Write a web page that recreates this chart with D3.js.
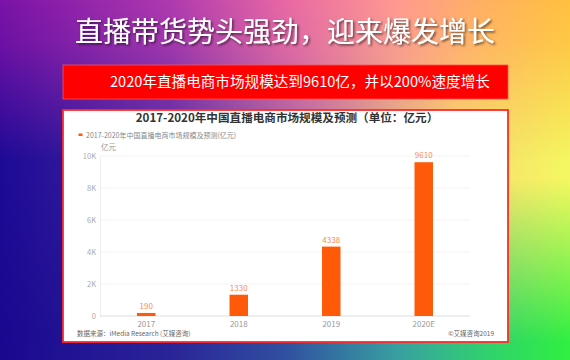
<!DOCTYPE html>
<html><head><meta charset="utf-8">
<script src="https://cdn.jsdelivr.net/npm/d3@7"></script>
<style>html,body{margin:0;padding:0;overflow:hidden;background:#1a0a90}</style>
</head><body>
<script>
const categories = ["2017", "2018", "2019", "2020E"];
const values = [190, 1330, 4338, 9610];
const yTicks = [0, 2000, 4000, 6000, 8000, 10000];
const yTickLabels = ["0", "2K", "4K", "6K", "8K", "10K"];
const mainTitle = "直播带货势头强劲，迎来爆发增长";
const subTitle = "2020年直播电商市场规模达到9610亿，并以200%速度增长";
const chartTitle = "2017-2020年中国直播电商市场规模及预测（单位：亿元）";
const legendLabel = "2017-2020年中国直播电商市场规模及预测(亿元)";
const unitLabel = "亿元";
const sourceLabel = "数据来源：iMedia Research (艾媒咨询)";
const copyLabel = "©艾媒咨询2019";

const W = 570, H = 360;
const FONT = "'Noto Sans CJK SC','Noto Sans',sans-serif";
const svg = d3.select("body").append("svg").attr("width", W).attr("height", H);
const defs = svg.append("defs");

function hgrad(id, stops) {
  const g = defs.append("linearGradient").attr("id", id).attr("x1", 0).attr("x2", 1).attr("y1", 0).attr("y2", 0);
  stops.forEach(s => g.append("stop").attr("offset", s[0]).attr("stop-color", s[1]));
}
hgrad("gTop", [[0, "#7a12a6"], [0.3, "#b03aae"], [0.5, "#e868a4"], [0.7, "#ff9a90"], [0.85, "#ffb060"], [1, "#ffc040"]]);
hgrad("gMid", [[0, "#1c0a96"], [0.3, "#4a2aa0"], [0.55, "#b070a0"], [0.8, "#f8d870"], [1, "#f4f860"]]);
hgrad("gBot", [[0, "#1a0890"], [0.3, "#2a2498"], [0.5, "#3050a0"], [0.7, "#38a0a0"], [0.85, "#30d070"], [1, "#30f040"]]);

function vmask(id, stops) {
  const g = defs.append("linearGradient").attr("id", id + "G").attr("x1", 0).attr("x2", 0).attr("y1", 0).attr("y2", 1);
  stops.forEach(s => g.append("stop").attr("offset", s[0]).attr("stop-color", "white").attr("stop-opacity", s[1]));
  defs.append("mask").attr("id", id).append("rect").attr("width", W).attr("height", H).attr("fill", `url(#${id}G)`);
}
vmask("mMid", [[0, 1], [0.5, 1], [0.95, 0]]);
vmask("mTop", [[0, 1], [0.12, 0.85], [0.45, 0]]);

svg.append("rect").attr("width", W).attr("height", H).attr("fill", "url(#gBot)");
svg.append("rect").attr("width", W).attr("height", H).attr("fill", "url(#gMid)").attr("mask", "url(#mMid)");
svg.append("rect").attr("width", W).attr("height", H).attr("fill", "url(#gTop)").attr("mask", "url(#mTop)");

// main title with shadow
const shadow = defs.append("filter").attr("id", "ts").attr("x", "-10%").attr("y", "-30%").attr("width", "120%").attr("height", "160%");
shadow.append("feDropShadow").attr("dx", 1.5).attr("dy", 1.5).attr("stdDeviation", 1).attr("flood-color", "#000").attr("flood-opacity", 0.6);
svg.append("text").attr("x", 285).attr("y", 42).attr("text-anchor", "middle")
  .attr("font-family", FONT).attr("font-size", 28).attr("font-weight", 400).attr("fill", "#fff")
  .attr("filter", "url(#ts)").text(mainTitle);

// red banner
svg.append("rect").attr("x", 63).attr("y", 65).attr("width", 445).attr("height", 34).attr("fill", "#ff0000")
  .attr("stroke", "#ff5050").attr("stroke-width", 0.8);
svg.append("text").attr("x", 110).attr("y", 87).attr("font-family", FONT).attr("font-size", 14.6)
  .attr("fill", "#fff").text(subTitle);

// white panel
svg.append("rect").attr("x", 63).attr("y", 110).attr("width", 445).attr("height", 232).attr("fill", "#fff")
  .attr("stroke", "#ff2a2a").attr("stroke-width", 1.8);

svg.append("text").attr("x", 287).attr("y", 122).attr("text-anchor", "middle").attr("font-family", FONT)
  .attr("font-size", 11.6).attr("font-weight", 700).attr("fill", "#333").text(chartTitle);

// legend
svg.append("rect").attr("x", 78.5).attr("y", 133.5).attr("width", 4).attr("height", 2.5).attr("fill", "#ff5a0a");
svg.append("text").attr("x", 86).attr("y", 138).attr("font-family", FONT).attr("font-size", 7)
  .attr("fill", "#888").text(legendLabel);

svg.append("text").attr("x", 101).attr("y", 150).attr("font-family", FONT).attr("font-size", 7.5)
  .attr("fill", "#999").text(unitLabel);

const x = d3.scaleBand().domain(categories).range([100, 470]).paddingInner(0.8).paddingOuter(0.4);
const y = d3.scaleLinear().domain([0, 10000]).range([316, 156]);

const g = svg.append("g").attr("font-family", FONT);
// gridlines
g.selectAll("line.grid").data(yTicks.slice(1)).join("line").attr("class", "grid")
  .attr("x1", 100).attr("x2", 470).attr("y1", d => y(d)).attr("y2", d => y(d))
  .attr("stroke", "#f0f0f0").attr("stroke-width", 0.8);
// y axis
const yAxis = d3.axisLeft(y).tickValues(yTicks).tickFormat((d, i) => yTickLabels[i]).tickSize(0).tickPadding(4);
const ya = g.append("g").attr("transform", "translate(100,0)").call(yAxis);
ya.select(".domain").attr("stroke", "#eee");
ya.selectAll("text").attr("font-size", 7.5).attr("fill", "#aaa").attr("font-family", FONT);

// x axis
const xAxis = d3.axisBottom(x).tickSize(0).tickPadding(5);
const xa = g.append("g").attr("transform", "translate(0,316)").call(xAxis);
xa.select(".domain").attr("stroke", "#ddd").attr("d", "M100,0H470");
xa.selectAll("text").attr("font-size", 8).attr("fill", "#999").attr("font-family", FONT);

// bars
g.selectAll("rect.bar").data(values).join("rect").attr("class", "bar")
  .attr("x", (d, i) => x(categories[i])).attr("width", x.bandwidth())
  .attr("y", d => y(d)).attr("height", d => y(0) - y(d)).attr("fill", "#ff5a0a");
g.selectAll("text.val").data(values).join("text").attr("class", "val")
  .attr("x", (d, i) => x(categories[i]) + x.bandwidth() / 2).attr("y", d => y(d) - 4)
  .attr("text-anchor", "middle").attr("font-size", 8).attr("fill", "#ff8a50").text(d => d);

svg.append("text").attr("x", 77).attr("y", 336).attr("font-family", FONT).attr("font-size", 6.5)
  .attr("fill", "#666").text(sourceLabel);
svg.append("text").attr("x", 494).attr("y", 336).attr("text-anchor", "end").attr("font-family", FONT).attr("font-size", 6.5)
  .attr("fill", "#666").text(copyLabel);
</script>
</body></html>
